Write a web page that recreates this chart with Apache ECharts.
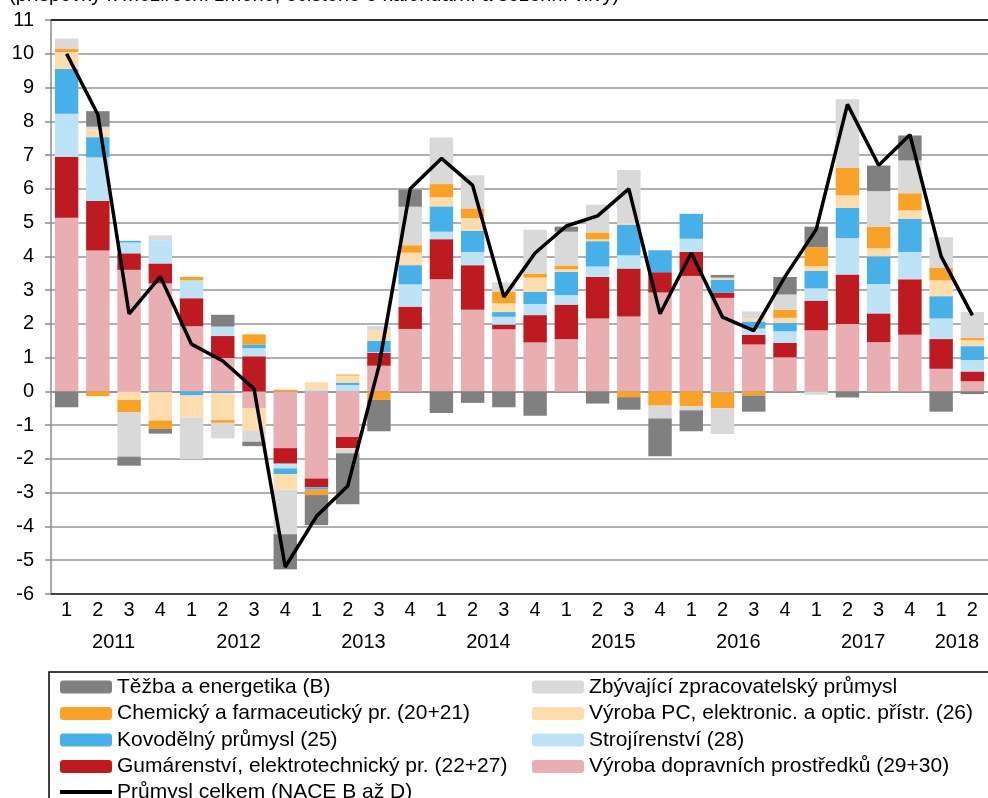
<!DOCTYPE html>
<html>
<head>
<meta charset="utf-8">
<script src="https://cdn.jsdelivr.net/npm/echarts@6/dist/echarts.min.js"></script>
<style>
html,body{margin:0;padding:0;background:#fff;}
#main{width:988px;height:798px;}
</style>
</head>
<body>
<div id="main"></div>
<script>
// kategorie (čtvrtletí 2011Q1 - 2018Q2)
var quarters = ['1','2','3','4','1','2','3','4','1','2','3','4','1','2','3','4','1','2','3','4','1','2','3','4','1','2','3','4','1','2'];
var years = ['2011','2011','2011','2011','2012','2012','2012','2012','2013','2013','2013','2013','2014','2014','2014','2014',
	'2015','2015','2015','2015','2016','2016','2016','2016','2017','2017','2017','2017','2018','2018'];
var yearLabelIdx = [1,5,9,13,17,21,25,28];

// příspěvky jednotlivých odvětví
var doprava = [5.14,4.17,3.60,3.20,1.93,0.99,-0.49,-1.68,-2.58,-1.35,0.76,1.85,3.32,2.42,1.84,1.45,1.55,2.16,2.22,2.93,3.42,2.77,1.39,1.01,1.81,2.00,1.46,1.68,0.67,0.30];
var guma = [1.81,1.47,0.49,0.59,0.83,0.65,1.04,-0.46,-0.26,-0.33,0.38,0.66,1.19,1.32,0.14,0.81,1.02,1.23,1.42,0.60,0.71,0.15,0.28,0.43,0.88,1.46,0.85,1.64,0.88,0.29];
var stroj = [1.27,1.29,0.32,0.69,0.53,0.28,0.24,-0.14,0.04,0.19,0.02,0.66,0.22,0.39,0.23,0.33,0.28,0.31,0.39,0,0.39,-0.03,0.19,0.34,0.36,1.08,0.87,0.81,0.61,0.34];
var kov = [1.33,0.60,0.05,-0.02,-0.12,-0.05,0.11,-0.17,-0.07,0.07,0.34,0.57,0.75,0.63,0.14,0.36,0.69,0.75,0.91,0.65,0.74,0.39,0.21,0.25,0.52,0.90,0.82,0.98,0.66,0.41];
var pc = [0.50,0.22,-0.25,-0.84,-0.65,-0.80,-0.66,-0.46,0.23,0.21,0.30,0.37,0.27,0.37,0.26,0.42,0.08,0.05,0.05,0,0,0.06,0.09,0.15,0.14,0.37,0.24,0.25,0.47,0.18];
var chem = [0.09,-0.14,-0.36,-0.25,0.10,-0.08,0.30,0.05,-0.16,0.03,-0.25,0.22,0.39,0.29,0.35,0.12,0.11,0.21,-0.17,-0.42,-0.44,-0.47,-0.12,0.24,0.56,0.81,0.64,0.51,0.38,0.06];
var zbyv = [0.31,0.09,-1.32,0.14,-1.23,-0.46,-0.34,-1.32,0,-0.15,0.14,1.14,1.38,0.98,0.27,1.30,1.00,0.82,1.57,-0.38,-0.12,-0.76,0.21,0.45,-0.10,2.03,1.05,0.97,0.90,0.77];
var tezba = [-0.47,0.46,-0.27,-0.14,0,0.35,-0.13,-1.04,-0.89,-1.51,-0.93,0.51,-0.64,-0.34,-0.47,-0.72,0.15,-0.36,-0.37,-1.12,-0.62,0.08,-0.48,0.52,0.61,-0.18,0.76,0.74,-0.60,-0.08];
var celkem = [10.0,8.2,2.3,3.4,1.4,0.9,0.08,-5.2,-3.7,-2.8,0.75,6.0,6.9,6.1,2.8,4.1,4.9,5.2,6.0,2.3,4.1,2.2,1.8,3.4,4.8,8.5,6.7,7.6,4.0,2.25];

var names = {
	tezba: 'Těžba a energetika (B)',
	zbyv: 'Zbývající zpracovatelský průmysl',
	chem: 'Chemický a farmaceutický pr. (20+21)',
	pc: 'Výroba PC, elektronic. a optic. přístr. (26)',
	kov: 'Kovodělný průmysl (25)',
	stroj: 'Strojírenství (28)',
	guma: 'Gumárenství, elektrotechnický pr. (22+27)',
	doprava: 'Výroba dopravních prostředků (29+30)',
	celkem: 'Průmysl celkem (NACE B až D)'
};

function barSerie(name, data, color){
	return {
		name: name, type: 'bar', stack: 'a', data: data,
		barCategoryGap: '25%', xAxisIndex: 0,
		itemStyle: {color: color},
		emphasis: {disabled: true}
	};
}

var font = 'Liberation Sans, Arial, sans-serif';
var legendText = {fontFamily: font, fontSize: 21, lineHeight: 22, color: '#000'};
var myChart = echarts.init(document.getElementById('main'));
var option = {
	animation: false,
	title: {
		text: '(příspěvky k meziroční změně, očištěno o kalendářní a sezónní vlivy)',
		left: 4, top: -20,
		textStyle: {fontFamily: font, fontSize: 20, fontWeight: 'normal', color: '#000'}
	},
	grid: {left: 51, right: -8, top: 20, bottom: 204},
	legend: [{
		orient: 'vertical', left: 60, top: 676, padding: 0,
		itemWidth: 52, itemHeight: 13, itemGap: 4.5,
		textStyle: legendText,
		data: [names.tezba, names.chem, names.kov, names.guma]
	}, {
		orient: 'vertical', left: 532, top: 676, padding: 0,
		itemWidth: 52, itemHeight: 13, itemGap: 4.5,
		textStyle: legendText,
		data: [names.zbyv, names.pc, names.stroj, names.doprava]
	}, {
		// čára celkem
		orient: 'vertical', left: 60, top: 781, padding: 0,
		itemWidth: 52, itemHeight: 4,
		textStyle: legendText,
		data: [{name: names.celkem, icon: 'rect'}]
	}],
	graphic: [{
		type: 'rect', shape: {x: 49, y: 672, width: 1000, height: 200},
		style: {fill: 'none', stroke: '#000', lineWidth: 1.5}, silent: true
	}],
	xAxis: [{
		// osa v nule
		type: 'category', data: quarters, position: 'bottom',
		axisLine: {onZero: true, lineStyle: {color: '#8c8c8c', width: 1.5}},
		axisTick: {length: 5, lineStyle: {color: '#8c8c8c', width: 1.5}},
		axisLabel: {show: false}
	}, {
		// čtvrtletí
		type: 'category', data: quarters, position: 'bottom',
		axisLine: {onZero: false, lineStyle: {color: '#222', width: 1.5}},
		axisTick: {length: 28, lineStyle: {color: '#8c8c8c', width: 1.2}},
		axisLabel: {margin: 6, fontFamily: font, fontSize: 20, color: '#000'}
	}, {
		// roky
		type: 'category', data: years, position: 'bottom',
		axisLine: {show: false, onZero: false},
		axisTick: {length: 61, interval: function(i){ return i % 4 === 0; }, lineStyle: {color: '#8c8c8c', width: 1.2}},
		axisLabel: {
			margin: 38, fontFamily: font, fontSize: 20, color: '#000',
			padding: [0, 0, 0, 31.5],
			interval: function(i){ return yearLabelIdx.indexOf(i) >= 0; }
		}
	}, {
		// horní okraj
		type: 'category', data: quarters, position: 'top',
		axisLine: {lineStyle: {color: '#000', width: 1.5}},
		axisTick: {show: false}, axisLabel: {show: false}
	}],
	yAxis: {
		type: 'value', min: -6, max: 11, interval: 1,
		axisLine: {show: true, lineStyle: {color: '#8c8c8c', width: 1.5}},
		axisTick: {show: true, length: 6, lineStyle: {color: '#8c8c8c', width: 1.5}},
		axisLabel: {margin: 17, fontFamily: font, fontSize: 20, color: '#000'},
		splitLine: {lineStyle: {color: '#969696', width: 1.5}}
	},
	series: [
		barSerie(names.doprava, doprava, '#e8aeb1'),
		barSerie(names.guma, guma, '#be1a22'),
		barSerie(names.stroj, stroj, '#bfe3f6'),
		barSerie(names.kov, kov, '#47b0e8'),
		barSerie(names.pc, pc, '#fddcae'),
		barSerie(names.chem, chem, '#f9a228'),
		barSerie(names.zbyv, zbyv, '#d9d9d9'),
		barSerie(names.tezba, tezba, '#808080'),
		{
			name: names.celkem, type: 'line', data: celkem, z: 5,
			symbol: 'none', lineStyle: {color: '#000', width: 3.5},
			itemStyle: {color: '#000'}
		}
	]
};
myChart.setOption(option);
</script>
</body>
</html>
